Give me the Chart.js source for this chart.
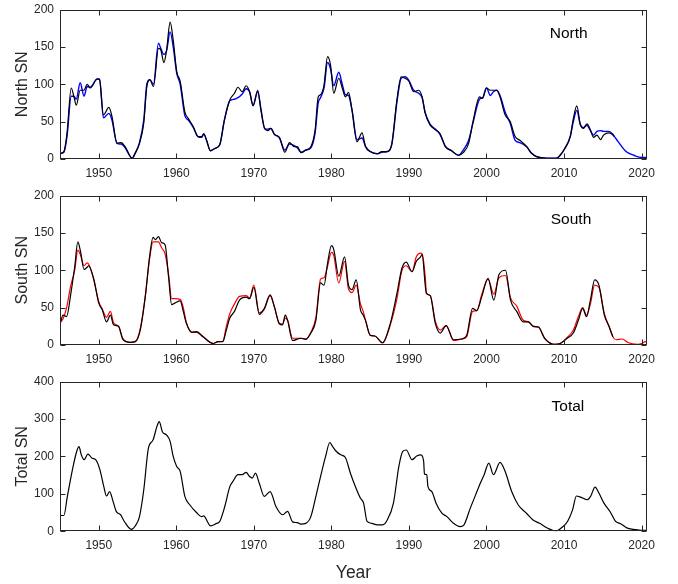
<!DOCTYPE html>
<html>
<head>
<meta charset="utf-8">
<title>Hemispheric sunspot number</title>
<script src="https://cdn.jsdelivr.net/npm/chart.js@4.4.0/dist/chart.umd.min.js"></script>
<style>
  html, body { margin: 0; padding: 0; background: #fff; }
  #wrap { position: relative; width: 678px; height: 584px; }
  .panel { position: absolute; left: 0; width: 678px; }
</style>
</head>
<body>
<div id="wrap">
  <div class="panel" style="top:0;height:184px"><canvas id="northChart"></canvas></div>
  <div class="panel" style="top:186px;height:184px"><canvas id="southChart"></canvas></div>
  <div class="panel" style="top:372px;height:212px"><canvas id="totalChart"></canvas></div>
</div>
<script>
// x axis
const xTicks = [1950, 1960, 1970, 1980, 1990, 2000, 2010, 2020];

// North panel: black and blue curves share the same sample years
const northYears = [
  1945.0, 1945.5, 1945.9, 1946.45, 1946.8, 1947.1, 1947.6, 1948.1, 1948.5, 1948.9,
  1949.8, 1950.1, 1950.6, 1951.3, 1951.7, 1952.35, 1952.9, 1953.4, 1954.3, 1954.7,
  1955.25, 1955.8, 1956.2, 1956.6, 1957.05, 1957.7, 1958.0, 1958.4, 1958.75, 1959.2,
  1959.6, 1960.05, 1960.5, 1961.1, 1961.55, 1962.2, 1962.8, 1963.25, 1963.55, 1963.9,
  1964.4, 1964.95, 1965.6, 1966.2, 1966.9, 1967.5, 1967.95, 1968.5, 1969.0, 1969.45,
  1969.9, 1970.5, 1970.9, 1971.4, 1971.8, 1972.2, 1972.65, 1973.3, 1974.0, 1974.6,
  1975.2, 1975.6, 1976.1, 1976.7, 1977.35, 1977.9, 1978.3, 1978.6, 1979.05, 1979.5,
  1979.9, 1980.3, 1980.95, 1981.4, 1981.8, 1982.2, 1982.65, 1983.3, 1983.95, 1984.4,
  1985.0, 1985.9, 1986.5, 1987.2, 1987.8, 1988.45, 1989.0, 1989.5, 1990.0, 1990.6,
  1991.25, 1991.7, 1992.1, 1992.7, 1993.4, 1994.0, 1994.7, 1995.5, 1996.4, 1997.0,
  1997.7, 1998.3, 1999.1, 1999.5, 2000.0, 2000.5, 2000.9, 2001.3, 2001.75, 2002.4,
  2003.05, 2003.7, 2004.3, 2005.2, 2005.8, 2006.5, 2007.8, 2009.05, 2009.5, 2010.1,
  2010.8, 2011.2, 2011.65, 2012.1, 2012.5, 2012.95, 2013.4, 2013.8, 2014.25, 2014.7,
  2015.1, 2015.75, 2016.2, 2016.5, 2017.0, 2018.0, 2019.0, 2020.0, 2020.7
];
const northBlack = [
  7.6, 10, 34, 95, 83, 72, 92, 92, 100, 95,
  107, 106, 59, 69, 57, 21, 22, 16.5, 1, 7.6,
  21, 48, 97, 106, 97, 148, 146, 129, 146, 183,
  159, 117, 104, 63, 54, 43, 30, 30, 34, 25,
  11, 14, 19, 52, 79, 88, 96, 90, 98, 90,
  71, 92, 66, 41, 38, 41, 33, 29, 9, 22,
  16.5, 16.5, 8.5, 12, 16.5, 39, 83, 86, 99, 137,
  125, 88, 108, 95, 83, 89, 66, 23, 35, 16.5,
  10, 7, 10, 10, 21, 79, 110, 108, 104, 90,
  92, 83, 61, 46, 39, 34, 16.5, 11, 5, 8.5,
  21, 52, 83, 81, 95, 92, 92, 92, 83, 59,
  50, 30, 25, 16.5, 7.6, 3, 1, 1, 5, 14,
  30, 54, 71, 46, 41, 47, 39, 29, 32, 26,
  32, 35, 33, 30, null, null, null, null, null
];
const northBlue = [
  7, 9, 30, 84, 84, 80, 102, 84, 97, 96,
  107, 107, 55, 61, 52, 21, 20, 15, 1, 8,
  22, 52, 100, 106, 100, 155, 148, 140, 145, 170,
  150, 115, 100, 58, 52, 42, 30, 29, 33, 25,
  11, 14, 19, 52, 78, 80, 82, 87, 94, 90,
  72, 90, 68, 40, 40, 41, 33, 28, 12, 20,
  18, 15, 9, 12, 15, 35, 75, 82, 95, 129,
  120, 98, 116, 100, 86, 85, 66, 26, 28, 17,
  10, 7, 9, 10, 20, 76, 108, 110, 105, 92,
  88, 82, 62, 47, 40, 33, 17, 11, 5, 12,
  25, 50, 80, 82, 95, 85, 90, 92, 85, 63,
  48, 25, 22, 16, 8, 3, 1, 1, 5, 14,
  30, 50, 65, 46, 42, 45, 38, 32, 37, 38,
  37, 37, 34, 30, 23, 10, 5, 2, 2
];

// South panel: black and red curves share the same sample years
const southYears = [
  1945.0, 1945.4, 1945.85, 1946.4, 1946.9, 1947.3, 1947.65, 1948.1, 1948.5, 1948.7,
  1949.35, 1950.0, 1950.45, 1951.0, 1951.5, 1951.9, 1952.55, 1953.1, 1954.05, 1954.7,
  1955.35, 1956.0, 1956.55, 1957.0, 1957.3, 1957.7, 1958.1, 1958.55, 1959.0, 1959.4,
  1959.8, 1960.5, 1960.9, 1961.3, 1962.0, 1962.6, 1963.45, 1964.75, 1965.4, 1966.0,
  1966.45, 1966.9, 1967.5, 1968.15, 1969.0, 1969.45, 1970.0, 1970.7, 1971.35, 1972.1,
  1972.65, 1973.3, 1973.7, 1974.05, 1974.35, 1975.0, 1976.05, 1976.7, 1977.35, 1978.0,
  1978.6, 1979.05, 1979.5, 1980.0, 1980.3, 1980.95, 1981.7, 1982.2, 1982.65, 1983.2,
  1983.75, 1984.1, 1984.4, 1985.0, 1985.6, 1986.6, 1987.6, 1988.45, 1989.1, 1989.65,
  1990.4, 1990.95, 1991.5, 1991.7, 1992.1, 1992.25, 1992.75, 1993.4, 1994.05, 1994.8,
  1995.75, 1996.8, 1997.45, 1998.2, 1998.75, 1999.4, 2000.2, 2000.95, 2001.6, 2002.45,
  2003.1, 2003.9, 2004.75, 2005.4, 2006.05, 2006.7, 2007.5, 2008.8, 2009.5, 2010.4,
  2011.2, 2011.85, 2012.4, 2012.9, 2013.4, 2013.95, 2014.5, 2015.2, 2015.8, 2016.3,
  2016.7, 2017.5, 2018.3, 2019.5, 2020.0, 2020.5, 2020.7
];
const southBlack = [
  28, 40, 38, 69, 105, 138, 125, 101, 104, 106,
  88, 56, 47, 31, 40, 27, 25, 7.6, 3.6, 4.5,
  20, 65, 118, 144, 141, 145, 137, 134, 91, 54,
  56, 59, 45, 29, 17, 18, 11, 2, 4.5, 4.5,
  20, 36, 45, 60, 64, 62, 77, 41, 49, 67,
  51, 28, 27, 40, 33, 6, 9, 7.6, 16, 33,
  83, 80, 109, 133, 128, 92, 118, 80, 74, 87,
  47, 40, 33, 13, 12, 3, 29, 69, 103, 111,
  98, 112, 118, 121, 80, 69, 66, 29, 16, 26,
  7, 8, 13, 49, 46, 65, 89, 60, 94, 100,
  60, 45, 31, 31, 25, 24, 9, 1, 2, 9,
  16, 33, 49, 38, 60, 87, 80, 40, 25, 11,
  null, null, null, null, null, null, null
];
const southRed = [
  30, 35, 50, 80, 100, 127, 120, 106, 110, 108,
  88, 58, 48, 37, 45, 30, 25, 9, 3.6, 4.5,
  22, 65, 115, 138, 138, 138, 130, 122, 95, 62,
  62, 61, 50, 30, 17, 17, 11, 2, 4.5, 5,
  25, 42, 55, 65, 66, 63, 80, 43, 48, 66,
  51, 29, 28, 36, 33, 9, 9, 8, 17, 37,
  88, 90, 105, 124, 120, 83, 112, 75, 70, 80,
  55, 45, 33, 13, 12, 3, 27, 62, 100, 106,
  98, 118, 123, 122, 92, 70, 66, 32, 20, 26,
  6, 8, 11, 45, 46, 68, 88, 68, 90, 93,
  63, 52, 33, 31, 25, 24, 9, 1, 2, 10,
  20, 38, 50, 40, 55, 80, 77, 42, 25, 11,
  7, 8, 3, 1, 2, 4.5, 4
];

// Total panel
const totalYears = [
  1945.0, 1945.5, 1945.95, 1946.6, 1947.15, 1947.45, 1947.75, 1948.1, 1948.6, 1949.15,
  1949.6, 1950.15, 1950.65, 1951.0, 1951.4, 1951.85, 1952.25, 1952.8, 1953.3, 1954.2,
  1954.7, 1955.25, 1955.8, 1956.4, 1957.0, 1957.5, 1957.8, 1958.2, 1958.75, 1959.2,
  1959.6, 1960.05, 1960.5, 1961.1, 1961.75, 1962.6, 1963.25, 1963.55, 1964.0, 1964.4,
  1965.2, 1965.6, 1966.25, 1966.9, 1967.3, 1967.95, 1968.5, 1969.0, 1969.45, 1969.8,
  1970.2, 1970.7, 1971.35, 1972.1, 1972.85, 1973.7, 1974.35, 1975.0, 1975.6, 1976.05,
  1976.7, 1977.35, 1978.0, 1978.6, 1979.25, 1979.8, 1980.1, 1980.55, 1981.2, 1981.8,
  1982.45, 1983.1, 1983.75, 1984.15, 1984.6, 1985.2, 1985.9, 1986.6, 1987.2, 1988.0,
  1988.7, 1989.2, 1989.65, 1990.4, 1991.0, 1991.55, 1991.9, 1992.0, 1992.3, 1992.45,
  1992.95, 1993.5, 1994.25, 1994.9, 1995.75, 1996.6, 1997.1, 1997.9, 1998.6, 1999.2,
  1999.7, 2000.3, 2000.9, 2001.75, 2002.4, 2003.25, 2004.1, 2005.15, 2006.0, 2006.85,
  2007.9, 2009.0, 2009.6, 2010.45, 2011.1, 2011.6, 2012.15, 2013.0, 2013.45, 2014.0,
  2014.5, 2015.15, 2016.0, 2016.65, 2017.3, 2018.1, 2019.0, 2020.0, 2020.6
];
const totalSN = [
  42, 42, 93, 164, 213, 226, 204, 191, 206, 195,
  191, 164, 119, 94, 106, 79, 53, 44, 26, 5,
  14, 39, 110, 222, 244, 280, 293, 266, 257, 240,
  200, 173, 160, 93, 70, 50, 39, 41, 26, 14,
  21, 26, 66, 119, 133, 151, 151, 157, 146, 142,
  155, 128, 93, 106, 66, 44, 53, 25, 23, 19,
  21, 39, 93, 146, 200, 237, 228, 215, 204, 197,
  155, 119, 88, 75, 26, 21, 17, 17, 30, 75,
  173, 213, 217, 191, 201, 204, 186, 153, 151, 119,
  106, 75, 48, 39, 21, 12, 17, 61, 97, 128,
  151, 182, 151, 184, 160, 106, 70, 48, 30, 21,
  8, 0, 8, 26, 57, 94, 91, 84, 94, 118,
  102, 75, 50, 26, 20, 9, 5, 2, 2
];

const AXIS_COLOR = '#262626';
const TICK_LEN = 5;
const FONT = '"Liberation Sans", Arial, Helvetica, sans-serif';

function toPoints(xs, ys) {
  return xs.map((x, i) => ({ x, y: ys[i] }));
}

function line(xs, ys, color, width) {
  return {
    data: toPoints(xs, ys),
    borderColor: color,
    borderWidth: width,
    pointRadius: 0,
    fill: false,
    cubicInterpolationMode: 'monotone',
    spanGaps: false
  };
}

// box round the plot area plus inward tick marks on all four sides, like matlab
const boxTicks = {
  id: 'boxTicks',
  afterDraw(chart, args, opts) {
    const { ctx, chartArea: a } = chart;
    const x = chart.scales.x, y = chart.scales.y;
    ctx.save();
    ctx.strokeStyle = AXIS_COLOR;
    ctx.lineWidth = 1;
    const L = Math.round(a.left) + 0.5, R = Math.round(a.right) - 0.5;
    const T = Math.round(a.top) + 0.5, B = Math.round(a.bottom) - 0.5;
    ctx.strokeRect(L, T, R - L, B - T);
    ctx.beginPath();
    x.ticks.forEach(t => {
      const px = Math.round(x.getPixelForValue(t.value)) + 0.5;
      ctx.moveTo(px, B); ctx.lineTo(px, B - TICK_LEN);
      ctx.moveTo(px, T); ctx.lineTo(px, T + TICK_LEN);
    });
    y.ticks.forEach(t => {
      const py = Math.round(y.getPixelForValue(t.value)) + 0.5;
      ctx.moveTo(L, py); ctx.lineTo(L + TICK_LEN, py);
      ctx.moveTo(R, py); ctx.lineTo(R - TICK_LEN, py);
    });
    ctx.stroke();
    if (opts && opts.text) {
      ctx.fillStyle = '#000';
      ctx.font = '15.5px ' + FONT;
      ctx.textAlign = 'center';
      ctx.textBaseline = 'middle';
      ctx.fillText(opts.text, x.getPixelForValue(opts.x), y.getPixelForValue(opts.y));
    }
    ctx.restore();
  }
};

function makeChart(id, datasets, yMax, yStep, yTitle, label, withYear) {
  const ctx = document.getElementById(id).getContext('2d');
  return new Chart(ctx, {
    type: 'line',
    data: { datasets },
    options: {
      responsive: true,
      maintainAspectRatio: false,
      animation: false,
      events: [],
      layout: { padding: { top: 9.5, right: 31, bottom: 0, left: 0 } },
      plugins: {
        legend: { display: false },
        tooltip: { enabled: false },
        boxTicks: label
      },
      scales: {
        x: {
          type: 'linear',
          min: 1945,
          max: 2020.7,
          afterBuildTicks: s => { s.ticks = xTicks.map(v => ({ value: v })); },
          afterFit: s => { s.height = withYear ? 52.8 : 25; },
          grid: { display: false, drawTicks: false },
          border: { display: false },
          ticks: {
            color: AXIS_COLOR,
            font: { family: FONT, size: 12 },
            padding: 7,
            maxRotation: 0,
            callback: v => String(v)
          },
          title: {
            display: withYear,
            text: 'Year',
            color: AXIS_COLOR,
            font: { family: FONT, size: 17.5 },
            padding: { top: 0, bottom: 0 }
          }
        },
        y: {
          min: 0,
          max: yMax,
          // keep the plot top where the layout padding puts it
          afterFit: s => { s.width = 60; s.paddingTop = 0; s.paddingBottom = 0; },
          grid: { display: false, drawTicks: false },
          border: { display: false },
          ticks: {
            stepSize: yStep,
            color: AXIS_COLOR,
            font: { family: FONT, size: 12 },
            padding: 6
          },
          title: {
            display: true,
            text: yTitle,
            color: AXIS_COLOR,
            font: { family: FONT, size: 16 },
            padding: { top: 13, bottom: 0 }
          }
        }
      }
    },
    plugins: [boxTicks]
  });
}

makeChart('northChart', [
  line(northYears, northBlack, '#000000', 1.2),
  line(northYears, northBlue, '#0000ff', 1.4)
], 200, 50, 'North SN', { text: 'North', x: 2010.6, y: 168 }, false);

makeChart('southChart', [
  line(southYears, southBlack, '#000000', 1.2),
  line(southYears, southRed, '#ff0000', 1.2)
], 200, 50, 'South SN', { text: 'South', x: 2010.9, y: 167 }, false);

makeChart('totalChart', [
  line(totalYears, totalSN, '#000000', 1.2)
], 400, 100, 'Total SN', { text: 'Total', x: 2010.5, y: 332 }, true);
</script>
</body>
</html>
